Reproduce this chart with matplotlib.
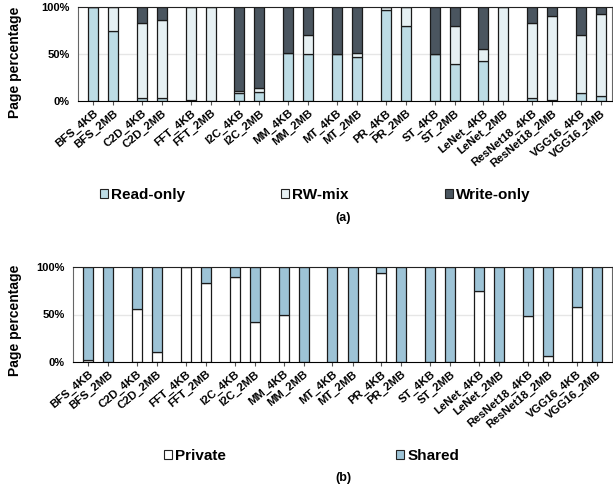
import numpy as np
import matplotlib
matplotlib.use('Agg')
from matplotlib import pyplot as plt
from matplotlib.patches import Patch

plt.rcParams['font.family'] = ['Liberation Sans', 'DejaVu Sans']
plt.rcParams['font.weight'] = 'bold'

labels = ['BFS_4KB', 'BFS_2MB', 'C2D_4KB', 'C2D_2MB', 'FFT_4KB', 'FFT_2MB',
          'I2C_4KB', 'I2C_2MB', 'MM_4KB', 'MM_2MB', 'MT_4KB', 'MT_2MB',
          'PR_4KB', 'PR_2MB', 'ST_4KB', 'ST_2MB', 'LeNet_4KB', 'LeNet_2MB',
          'ResNet18_4KB', 'ResNet18_2MB', 'VGG16_4KB', 'VGG16_2MB']

# (a) page access type, %
read_only = [100, 74.6, 3.6, 3.6, 1, 0, 9, 9.5, 50.7, 50, 50, 47,
             97, 80, 50, 39.6, 42.9, 0, 3, 1.4, 8.6, 5]
rw_mix = [0, 25.4, 78.9, 82.8, 99, 100, 1.4, 4.8, 0, 20.4, 0, 4.5,
          3, 20, 0, 40.4, 12.9, 100, 80, 88.6, 61.8, 88]

# (b) page sharing, %
private = [2.4, 0, 56, 10.5, 99.5, 83.6, 90, 42.5, 49, 0, 0, 0,
           94, 0, 0, 0, 75, 0, 48, 6, 58, 0]

ro = np.array(read_only)
rw = np.array(rw_mix)
wo = 100 - ro - rw
pv = np.array(private)
sh = 100 - pv

c_ro = '#bddce5'
c_rw = '#e6f0f3'
c_wo = '#4a555f'
c_pv = '#ffffff'
c_sh = '#9dc3d6'

x = np.array([g * 2.44 + j for g in range(11) for j in range(2)])
w = 0.5
edge = dict(edgecolor='#1a1a1a', linewidth=0.9)

fig = plt.figure(figsize=(6.13, 4.9), dpi=100)
ax1 = fig.add_axes([78 / 613, 1 - 101 / 490, 534 / 613, 94 / 490])
ax2 = fig.add_axes([73 / 613, 1 - 362 / 490, 539 / 613, 95 / 490])


def style(ax, xmax):
    ax.set_ylim(0, 100)
    ax.set_xlim(-0.75, xmax)
    ax.set_yticks([0, 50, 100])
    ax.set_yticklabels(['0%', '50%', '100%'], fontsize=8, fontweight='bold')
    ax.axhline(50, color='#e6e6e6', lw=1, zorder=0)
    ax.set_xticks(x)
    ax.set_xticklabels(labels, rotation=40, ha='right', rotation_mode='anchor',
                       fontsize=8.2, fontweight='bold')
    ax.tick_params(axis='y', length=0, pad=6)
    ax.tick_params(axis='x', length=3, width=0.8, color='#555555', pad=2)
    for s in ['left', 'right']:
        ax.spines[s].set_color('#666666')
    ax.spines['bottom'].set_color('black')
    ax.spines['top'].set_color('#222222')


ax1.bar(x, ro, w, color=c_ro, **edge, zorder=2)
ax1.bar(x, rw, w, bottom=ro, color=c_rw, **edge, zorder=2)
ax1.bar(x, wo, w, bottom=ro + rw, color=c_wo, **edge, zorder=2)
style(ax1, 25.95)

ax2.bar(x, pv, w, color=c_pv, **edge, zorder=2)
ax2.bar(x, sh, w, bottom=pv, color=c_sh, **edge, zorder=2)
style(ax2, 26.15)

for ypx in (62, 320):
    fig.text(15 / 613, 1 - ypx / 490, 'Page percentage', rotation=90,
             ha='center', va='center', fontsize=10, fontweight='bold')


def legend_item(label, color, xpx, ypx):
    h = Patch(facecolor=color, edgecolor='#222222', linewidth=0.8)
    lg = fig.legend(handles=[h], labels=[label], loc='center left',
                    bbox_to_anchor=(xpx / 613, 1 - ypx / 490), frameon=False,
                    prop={'weight': 'bold', 'size': 11}, handlelength=0.5,
                    handleheight=0.5, handletextpad=0.25, borderpad=0,
                    borderaxespad=0)
    return lg


legend_item('Read-only', c_ro, 100, 195)
legend_item('RW-mix', c_rw, 281, 195)
legend_item('Write-only', c_wo, 445, 195)
legend_item('Private', c_pv, 164, 456)
legend_item('Shared', c_sh, 396, 456)

fig.text(343 / 613, 1 - 218 / 490, '(a)', ha='center', va='center',
         fontsize=9, fontweight='bold')
fig.text(343 / 613, 1 - 478 / 490, '(b)', ha='center', va='center',
         fontsize=9, fontweight='bold')

fig.savefig('out.png', dpi=100)
